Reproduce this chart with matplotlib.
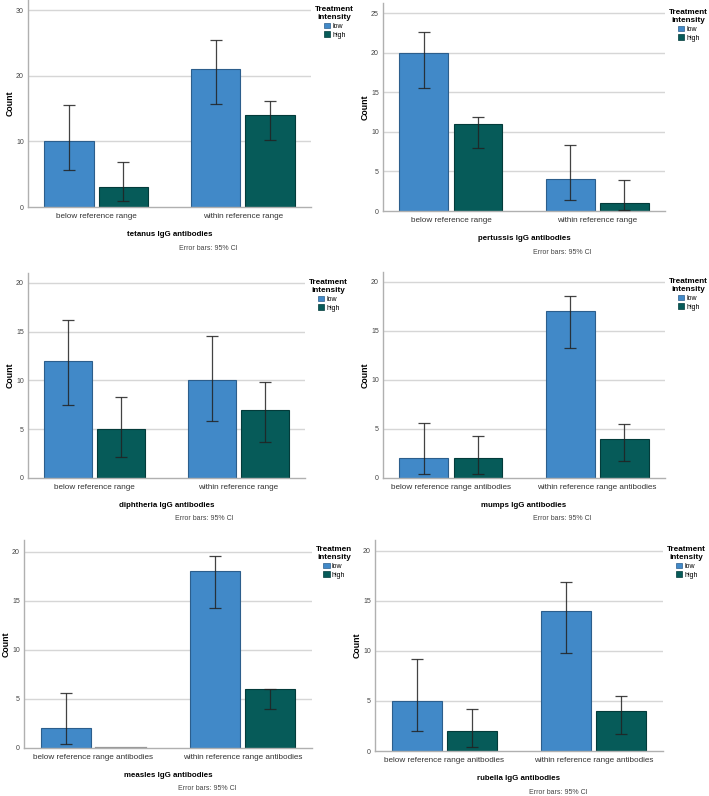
import matplotlib
matplotlib.use('Agg')
from matplotlib import pyplot as plt
from matplotlib.patches import Patch
import numpy as np

plt.rcParams['font.family'] = ['Liberation Sans', 'DejaVu Sans']

# data (counts and 95% CI limits), order: [below, within]
cats_short = ['below reference range', 'within reference range']
cats_long = ['below reference range antibodies', 'within reference range antibodies']
cats_rubella = ['below reference range anitbodies', 'within reference range antibodies']

tetanus_low = [10, 21]
tetanus_high = [3, 14]
tetanus_low_ci = [(5.6, 15.5), (15.7, 25.5)]
tetanus_high_ci = [(0.9, 6.8), (10.2, 16.2)]

pertussis_low = [20, 4]
pertussis_high = [11, 1]
pertussis_low_ci = [(15.6, 22.6), (1.4, 8.4)]
pertussis_high_ci = [(8.0, 11.9), (0.1, 3.9)]

diphtheria_low = [12, 10]
diphtheria_high = [5, 7]
diphtheria_low_ci = [(7.5, 16.2), (5.8, 14.5)]
diphtheria_high_ci = [(2.2, 8.3), (3.7, 9.8)]

mumps_low = [2, 17]
mumps_high = [2, 4]
mumps_low_ci = [(0.4, 5.6), (13.3, 18.6)]
mumps_high_ci = [(0.4, 4.3), (1.7, 5.5)]

measles_low = [2, 18]
measles_high = [0, 6]
measles_low_ci = [(0.4, 5.6), (14.3, 19.6)]
measles_high_ci = [None, (4.0, 6.0)]

rubella_low = [5, 14]
rubella_high = [2, 4]
rubella_low_ci = [(2.0, 9.2), (9.8, 16.9)]
rubella_high_ci = [(0.4, 4.2), (1.7, 5.5)]

W, H = 709, 796
fig = plt.figure(figsize=(W / 100, H / 100), dpi=100)

col_low = '#4189c8'
col_high = '#065b59'
edge_low = '#2c5e8c'
edge_high = '#033b3a'
grid_col = '#d6d6d6'
spine_col = '#b0b0b0'


def make_panel(rect, cats, low, high, low_ci, high_ci, ylim, yticks, xlabel,
               legend_title='Treatment\nintensity'):
    l, t, r, b = rect
    ax = fig.add_axes([l / W, 1 - b / H, (r - l) / W, (b - t) / H])
    x = np.arange(len(cats))
    off, bw = 0.185, 0.335
    for vals, cis, col, ec, sign in [(low, low_ci, col_low, edge_low, -1),
                                     (high, high_ci, col_high, edge_high, 1)]:
        xs = x + sign * off
        for xi, v, ci in zip(xs, vals, cis):
            if v == 0:
                # empty group is drawn as a flat grey line on the baseline
                ax.plot([xi - bw / 2, xi + bw / 2], [0, 0], color='#9a9a9a', lw=1.6, zorder=3)
                continue
            ax.bar(xi, v, width=bw, color=col, edgecolor=ec, linewidth=0.8, zorder=2)
            if ci is not None:
                ax.errorbar(xi, v, yerr=[[v - ci[0]], [ci[1] - v]], fmt='none',
                            ecolor='#222222', elinewidth=0.9, capsize=4.6,
                            capthick=0.9, alpha=0.85, zorder=4)
    ax.set_xlim(-0.465, 1.465)
    ax.set_ylim(*ylim)
    ax.set_yticks(yticks)
    ax.set_xticks(x)
    ax.set_xticklabels(cats, fontsize=5.9, color='#333333')
    ax.tick_params(axis='y', labelsize=5, colors='#444444', length=0, pad=3)
    ax.tick_params(axis='x', length=0, pad=4)
    for yt in yticks[1:]:
        ax.axhline(yt, color=grid_col, lw=1.0, zorder=0)
    for s in ['top', 'right']:
        ax.spines[s].set_visible(False)
    for s in ['left', 'bottom']:
        ax.spines[s].set_color(spine_col)
        ax.spines[s].set_linewidth(1.0)
    ax.set_ylabel('Count', fontsize=6.3, fontweight='bold', labelpad=1.2)
    ax.set_xlabel(xlabel, fontsize=5.7, fontweight='bold', labelpad=8)
    ax.annotate('Error bars: 95% CI', xy=(0.636, 0), xycoords='axes fraction',
                xytext=(0, -41), textcoords='offset pixels', ha='center', va='center',
                fontsize=5, color='#444444')
    handles = [Patch(facecolor=col_low, edgecolor=edge_low, linewidth=0.5, label='low'),
               Patch(facecolor=col_high, edgecolor=edge_high, linewidth=0.5, label='high')]
    leg = ax.legend(handles=handles, title=legend_title, loc='upper left',
                    bbox_to_anchor=(1.0, 0.99), frameon=False, fontsize=5,
                    title_fontsize=5.9, handlelength=0.9, handleheight=0.9,
                    handletextpad=0.3, labelspacing=0.2, borderaxespad=0.2)
    leg.get_title().set_fontweight('bold')
    leg.get_title().set_multialignment('center')
    return ax


make_panel((28, 0, 311, 207), cats_short, tetanus_low, tetanus_high,
           tetanus_low_ci, tetanus_high_ci, (0, 31.6), [0, 10, 20, 30], 'tetanus IgG antibodies')
make_panel((383, 3, 665, 211), cats_short, pertussis_low, pertussis_high,
           pertussis_low_ci, pertussis_high_ci, (0, 26.3), [0, 5, 10, 15, 20, 25], 'pertussis IgG antibodies')
make_panel((28, 273, 305, 478), cats_short, diphtheria_low, diphtheria_high,
           diphtheria_low_ci, diphtheria_high_ci, (0, 21), [0, 5, 10, 15, 20], 'diphtheria IgG antibodies')
make_panel((383, 272, 665, 478), cats_long, mumps_low, mumps_high,
           mumps_low_ci, mumps_high_ci, (0, 21), [0, 5, 10, 15, 20], 'mumps IgG antibodies')
make_panel((24, 540, 312, 748), cats_long, measles_low, measles_high,
           measles_low_ci, measles_high_ci, (0, 21.2), [0, 5, 10, 15, 20], 'measles IgG antibodies',
           legend_title='Treatmen\nintensity')
make_panel((375, 540, 663, 751), cats_rubella, rubella_low, rubella_high,
           rubella_low_ci, rubella_high_ci, (0, 21.05), [0, 5, 10, 15, 20], 'rubella IgG antibodies')

fig.savefig('out.png', dpi=100)
